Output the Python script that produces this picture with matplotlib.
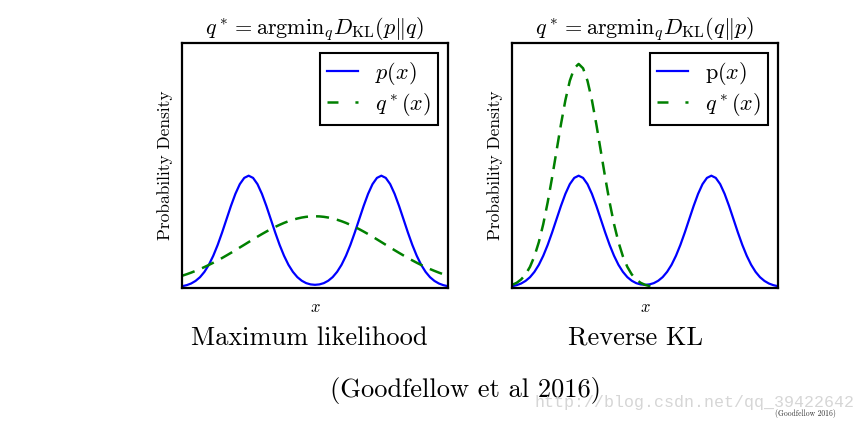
import numpy as np
import matplotlib
matplotlib.use("Agg")
import matplotlib.pyplot as plt
from matplotlib.lines import Line2D

plt.rcParams['mathtext.fontset'] = 'cm'
plt.rcParams['font.family'] = ['cmr10', 'DejaVu Serif']
plt.rcParams['axes.unicode_minus'] = False
plt.rcParams['lines.scale_dashes'] = False
plt.rcParams['axes.formatter.use_mathtext'] = True

# ---- data ----
x = np.linspace(0.0, 1.0, 61)

p_vals = [0.028, 0.050, 0.085, 0.140, 0.219, 0.332, 0.482, 0.674, 0.905, 1.169,
          1.452, 1.733, 1.989, 2.195, 2.328, 2.375, 2.328, 2.195, 1.989, 1.733,
          1.452, 1.169, 0.905, 0.674, 0.482, 0.333, 0.221, 0.144, 0.093, 0.066,
          0.057, 0.066, 0.093, 0.144, 0.221, 0.333, 0.482, 0.674, 0.905, 1.169,
          1.452, 1.733, 1.989, 2.195, 2.328, 2.375, 2.328, 2.195, 1.989, 1.733,
          1.452, 1.169, 0.905, 0.674, 0.482, 0.332, 0.219, 0.140, 0.085, 0.050,
          0.028]

q_ml_vals = [0.251, 0.282, 0.316, 0.353, 0.392, 0.434, 0.479, 0.526, 0.576, 0.627,
             0.681, 0.736, 0.792, 0.850, 0.907, 0.965, 1.023, 1.080, 1.135, 1.188,
             1.239, 1.287, 1.331, 1.372, 1.408, 1.439, 1.465, 1.486, 1.501, 1.510,
             1.513, 1.510, 1.501, 1.486, 1.465, 1.439, 1.408, 1.372, 1.331, 1.287,
             1.239, 1.188, 1.135, 1.080, 1.023, 0.965, 0.907, 0.850, 0.792, 0.736,
             0.681, 0.627, 0.576, 0.526, 0.479, 0.434, 0.392, 0.353, 0.316, 0.282,
             0.251]

# reverse-KL fit: visible only over the left part of the axis
q_rkl_vals = [0.057, 0.100, 0.171, 0.279, 0.439, 0.663, 0.964, 1.347, 1.810, 2.338,
              2.903, 3.466, 3.978, 4.390, 4.656, 4.749, 4.656, 4.390, 3.978, 3.466,
              2.903, 2.338, 1.810, 1.347, 0.964, 0.663, 0.439, 0.279, 0.171, 0.100,
              0.057, 0.031, 0.016, 0.008]

titles = [r'$q^* = \mathrm{argmin}_q D_{\mathrm{KL}}(p \Vert q)$',
          r'$q^* = \mathrm{argmin}_q D_{\mathrm{KL}}(q \Vert p)$']
p_labels = [r'$p(x)$', r'$\mathrm{p}(x)$']
q_label = r'$q^*(x)$'
captions = ['Maximum likelihood', 'Reverse KL']
q_series = [q_ml_vals, q_rkl_vals]

BLUE = '#0000ff'
GREEN = '#008000'

fig = plt.figure(figsize=(8.65, 4.24), dpi=100)
lefts = [182.3 / 865, 512.3 / 865]
W = 265.4 / 865
B = 1 - 287.5 / 424
H = 244.8 / 424
caption_x = [309 / 865, 636 / 865]

for i, l in enumerate(lefts):
    ax = fig.add_axes([l, B, W, H])
    ax.plot(x, p_vals, color=BLUE, lw=1.6, zorder=2)
    q = q_series[i]
    ax.plot(x[:len(q)], q, color=GREEN, lw=1.8, dashes=(9.4, 5.8), zorder=2)
    ax.set_xlim(0, 1)
    ax.set_ylim(0, 5.2)
    ax.set_xticks([])
    ax.set_yticks([])
    for s in ax.spines.values():
        s.set_linewidth(1.6)
        s.set_zorder(3)
    ax.set_title(titles[i], fontsize=16, pad=6)
    ax.set_xlabel(r'$x$', fontsize=12, labelpad=9)
    ax.set_ylabel('Probability Density', fontsize=12.5, labelpad=7)
    h1 = Line2D([], [], color=BLUE, lw=1.6)
    h2 = Line2D([], [], color=GREEN, lw=1.8, dashes=(7.9, 12.2))
    leg = ax.legend([h1, h2], [p_labels[i], q_label], loc='upper right',
                    fontsize=16, handlelength=1.4, handletextpad=0.75,
                    labelspacing=0.18, borderpad=0.32, borderaxespad=0.45,
                    fancybox=False, framealpha=1, edgecolor='black')
    leg.get_frame().set_linewidth(1.5)
    fig.text(caption_x[i], 1 - 338 / 424, captions[i], fontsize=19,
             ha='center', va='center')

fig.text(466 / 865, 1 - 390 / 424, '(Goodfellow et al 2016)', fontsize=19,
         ha='center', va='center')
fig.text(695 / 865, 1 - 403 / 424, 'http://blog.csdn.net/qq_39422642',
         fontsize=12, ha='center', va='center', color='#d6d6d6',
         family='Liberation Mono')
fig.text(805 / 865, 1 - 414 / 424, '(Goodfellow 2016)', fontsize=5.5,
         ha='center', va='center', color='#333333')

fig.savefig('out.png', dpi=100)
